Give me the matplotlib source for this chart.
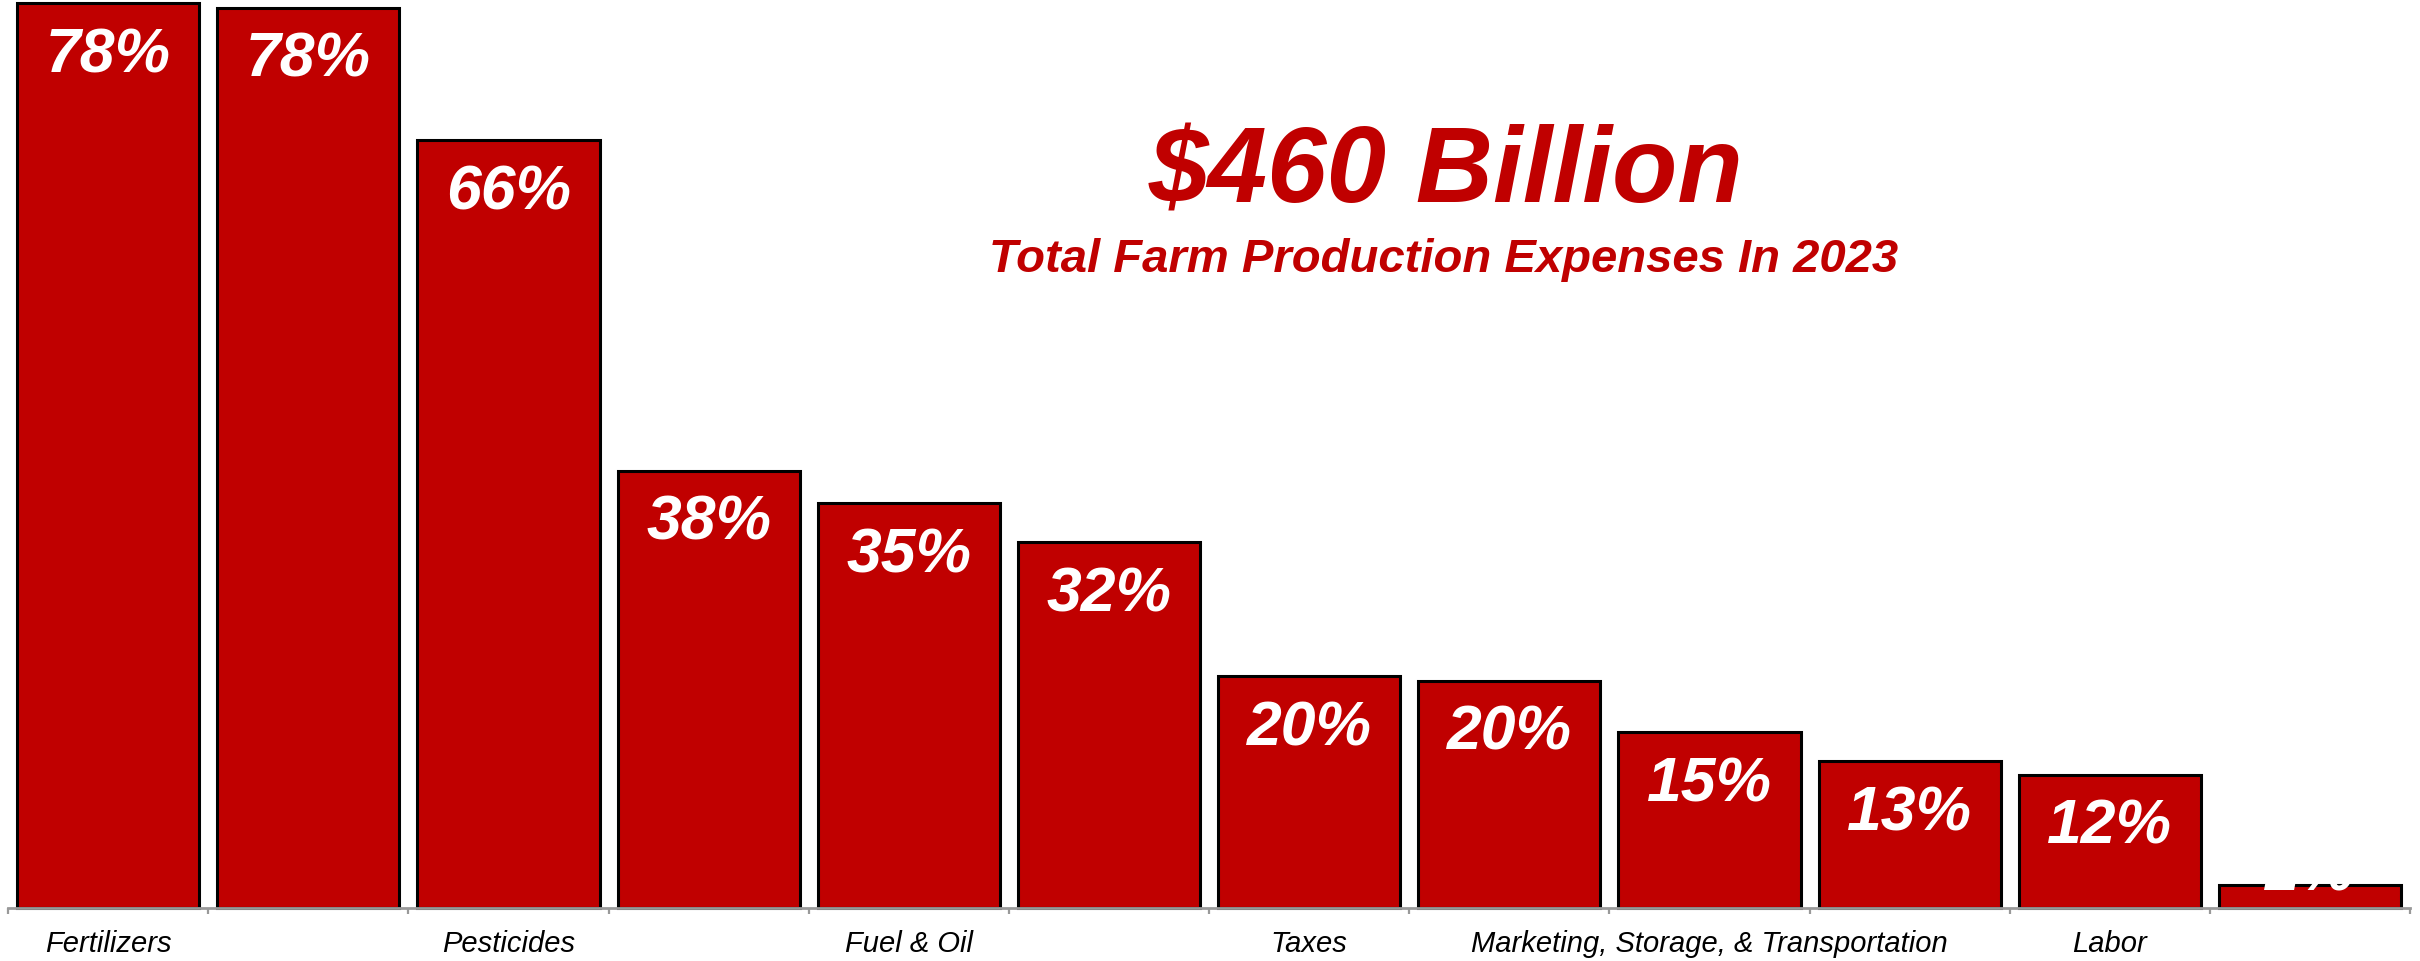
import matplotlib.pyplot as plt
import numpy as np

plt.rcParams['font.family'] = ['Liberation Sans', 'DejaVu Sans']

# only every other category name is shown on the axis
categories = ["Fertilizers", "", "Pesticides", "", "Fuel & Oil", "",
              "Taxes", "", "Marketing, Storage, & Transportation", "",
              "Labor", ""]
shares = [78.0, 77.6, 66.2, 37.7, 34.9, 31.5, 20.0, 19.6, 15.2, 12.7, 11.5, 2.0]

title = "$460 Billion"
subtitle = "Total Farm Production Expenses In 2023"

red = "#C00000"

fig = plt.figure(figsize=(24.2, 9.61), dpi=100)
ax = fig.add_axes([0.0033, 0.0552, 0.9926, 0.9418])

x = np.arange(len(shares))
bars = ax.bar(x, shares, width=0.91, color=red, edgecolor="black",
              linewidth=2.2, zorder=2, clip_on=False)

ax.set_xlim(-0.5, len(shares) - 0.5)
ax.set_ylim(0, 78)

for i, v in enumerate(shares):
    if v > 5:
        off = -50
    else:
        off = -4
    ax.annotate(f"{v:.0f}%", (i, v), xytext=(0, off), textcoords="offset points",
                ha="center", va="baseline", color="white", fontsize=45,
                fontweight="bold", fontstyle="italic", zorder=3,
                annotation_clip=False)

ax.set_xticks(x)
ax.set_xticklabels(categories, fontstyle="italic", fontsize=21)
ax.set_xticks(np.arange(-0.5, len(shares) + 0.5, 1), minor=True)
ax.tick_params(axis="x", which="major", length=0, pad=16)
ax.tick_params(axis="x", which="minor", length=4, width=1.6, color="#999999")
ax.set_yticks([])

for s in ["left", "top", "right"]:
    ax.spines[s].set_visible(False)
ax.spines["bottom"].set_color("#999999")
ax.spines["bottom"].set_linewidth(2)

fig.text(0.5975, 0.7888, title, ha="center", va="baseline", color=red,
         fontsize=77, fontweight="bold", fontstyle="italic")
fig.text(0.5967, 0.717, subtitle, ha="center", va="baseline", color=red,
         fontsize=34, fontweight="bold", fontstyle="italic")

fig.savefig("out.png", dpi=100)
